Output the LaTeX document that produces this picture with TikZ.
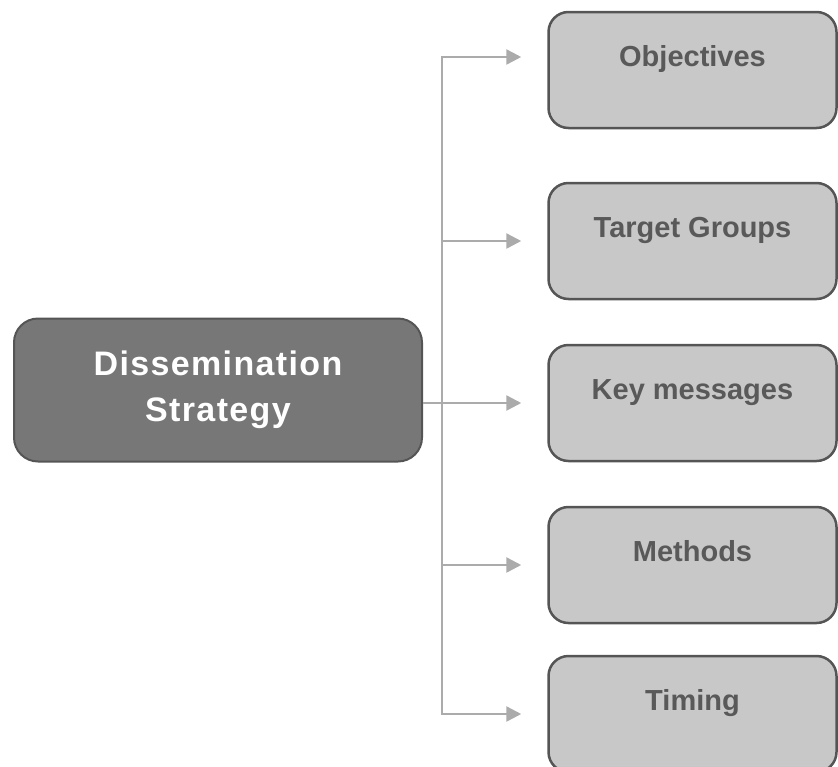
\documentclass[tikz,border=0pt]{standalone}
\usepackage{fontspec}
\setmainfont{Liberation Sans}
\newfontfamily\stratfont[LetterSpace=4]{Liberation Sans}
\usetikzlibrary{arrows.meta}

\definecolor{stratfill}{HTML}{777777}
\definecolor{boxline}{HTML}{555555}
\definecolor{itemfill}{HTML}{C8C8C8}
\definecolor{itemtext}{HTML}{595959}
\definecolor{wiregray}{HTML}{ABABAB}

\tikzset{
  stratbox/.style={draw=boxline, line width=2pt, fill=stratfill, rounded corners=24pt,
    minimum width=408pt, minimum height=143pt, align=center, text=white,
    font=\stratfont\bfseries\fontsize{34}{46}\selectfont},
  itembox/.style={draw=boxline, line width=2.5pt, fill=itemfill, rounded corners=20pt,
    minimum width=288pt, inner ysep=0pt, text height=54pt, text depth=62pt,
    text=itemtext, font=\bfseries\fontsize{29}{34}\selectfont},
  wire/.style={draw=wiregray, line width=2.5pt, >={Triangle[length=15pt,width=15pt]}}
}

\begin{document}
\begin{tikzpicture}

  \newcommand\colx{692.5pt}
  \useasboundingbox (0pt,0pt) rectangle (838pt,-766pt);

  \node[stratbox] (strat) at (218pt,-390pt) {Dissemination\\Strategy};

  \node[itembox] (obj) at (\colx, -70pt)  {Objectives};
  \node[itembox] (tg)  at (\colx, -241pt) {Target Groups};
  \node[itembox] (key) at (\colx, -403pt) {Key messages};
  \node[itembox] (met) at (\colx, -565pt) {Methods};
  \node[itembox] (tim) at (\colx, -714pt) {Timing};

  \coordinate (spine) at (442pt,0pt);
  \coordinate (objin) at ([yshift=13pt]obj.west);

  % spine with the top and bottom branch
  \draw[wire, <->, shorten <=26pt, shorten >=26pt]
    (objin) -- (spine |- objin) -- (spine |- tim.west) -- (tim.west);

  \draw[wire, ->, shorten >=26pt] (spine |- tg.west) -- (tg.west);
  \draw[wire, ->, shorten >=26pt] (strat.east |- key.west) -- (key.west);
  \draw[wire, ->, shorten >=26pt] (spine |- met.west) -- (met.west);

\end{tikzpicture}
\end{document}
